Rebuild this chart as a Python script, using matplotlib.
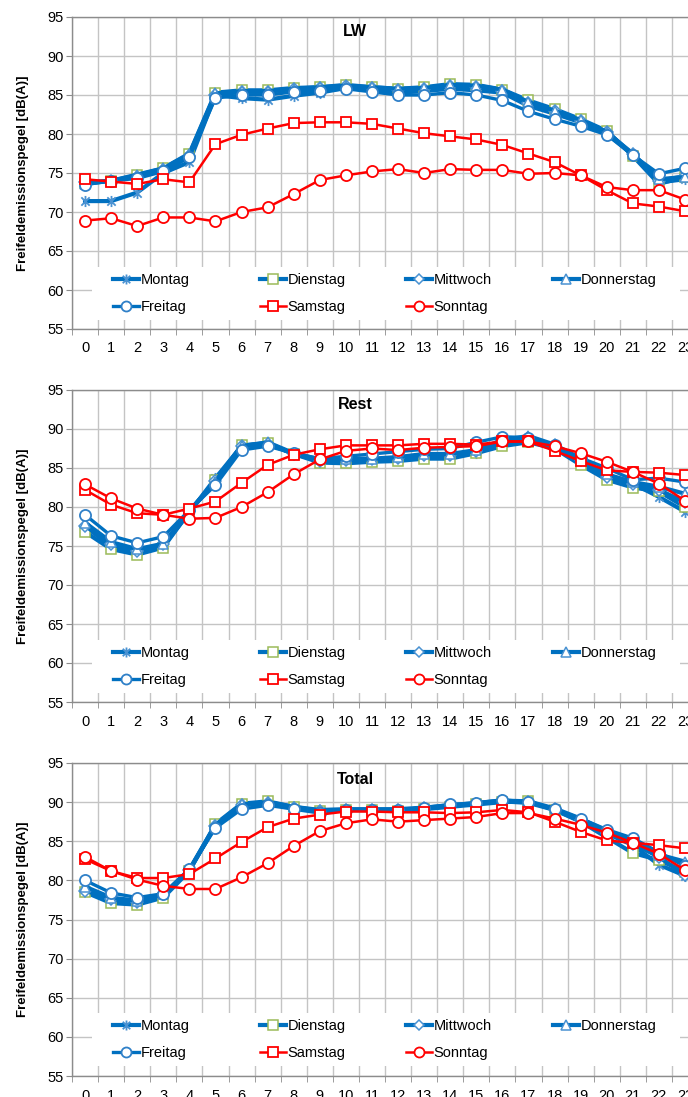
import numpy as np
import matplotlib
matplotlib.use("Agg")
import matplotlib.pyplot as plt
from matplotlib.path import Path
from matplotlib.patches import Rectangle
from matplotlib.legend import Legend

plt.rcParams['font.family'] = ['Liberation Sans', 'DejaVu Sans']

hours = list(range(24))
tick_labels = [str(h) for h in hours]
days = ["Montag", "Dienstag", "Mittwoch", "Donnerstag", "Freitag", "Samstag", "Sonntag"]
titles = ["LW", "Rest", "Total"]
ylabel = "Freifeldemissionspegel [dB(A)]"

# ---- LW ----
lw_mo = [71.4, 71.4, 72.5, 75.0, 76.4, 85.0, 84.6, 84.4, 84.9, 85.3, 85.9, 85.6, 85.3, 85.5, 85.8, 85.6, 85.3, 83.6, 82.6, 81.5, 80.1, 77.3, 73.8, 74.2]
lw_di = [73.7, 74.0, 74.7, 75.6, 77.5, 85.3, 85.6, 85.6, 85.9, 86.0, 86.3, 86.0, 85.8, 86.0, 86.4, 86.3, 85.7, 84.3, 83.2, 81.9, 80.4, 77.2, 73.6, 74.5]
lw_mi = [73.8, 74.0, 74.5, 75.4, 77.2, 85.0, 85.4, 85.4, 85.8, 85.9, 86.1, 85.9, 85.6, 85.8, 86.1, 86.0, 85.5, 84.0, 82.9, 81.7, 80.2, 77.5, 74.0, 74.6]
lw_do = [73.6, 74.0, 74.8, 75.6, 77.4, 85.2, 85.5, 85.5, 85.8, 86.0, 86.2, 86.0, 85.8, 85.9, 86.3, 86.2, 85.7, 84.1, 83.0, 81.8, 80.3, 77.4, 74.2, 74.5]
lw_fr = [73.5, 74.0, 74.3, 75.2, 77.0, 84.6, 85.0, 85.0, 85.4, 85.5, 85.8, 85.4, 85.0, 85.0, 85.3, 85.0, 84.3, 82.9, 81.9, 81.0, 79.9, 77.3, 74.9, 75.6]
lw_sa = [74.2, 73.9, 73.6, 74.2, 73.8, 78.7, 79.9, 80.7, 81.4, 81.5, 81.5, 81.3, 80.7, 80.1, 79.7, 79.3, 78.6, 77.5, 76.4, 74.7, 72.8, 71.1, 70.7, 70.1]
lw_so = [68.9, 69.2, 68.2, 69.3, 69.3, 68.8, 70.0, 70.6, 72.3, 74.1, 74.7, 75.2, 75.5, 75.0, 75.5, 75.4, 75.4, 74.9, 75.0, 74.7, 73.2, 72.8, 72.8, 71.6]

# ---- Rest ----
re_mo = [77.5, 75.0, 74.3, 75.0, 79.3, 83.7, 87.8, 88.2, 86.8, 86.0, 85.9, 86.0, 86.2, 86.5, 86.5, 86.9, 88.2, 88.7, 87.8, 85.8, 84.0, 83.0, 81.3, 79.4]
re_di = [76.8, 74.6, 73.9, 74.8, 79.4, 83.4, 87.9, 88.2, 86.8, 85.7, 85.6, 85.8, 85.9, 86.2, 86.2, 86.9, 87.8, 88.3, 87.5, 85.4, 83.5, 82.5, 82.0, 80.0]
re_mi = [77.6, 75.2, 74.4, 75.2, 79.5, 83.3, 87.8, 88.1, 86.8, 85.9, 86.0, 86.1, 86.3, 86.7, 86.7, 87.2, 88.5, 88.8, 87.9, 86.0, 83.9, 82.9, 82.2, 80.6]
re_do = [78.0, 75.5, 74.6, 75.3, 79.5, 83.2, 87.8, 88.3, 86.9, 86.1, 86.2, 86.2, 86.4, 86.8, 86.8, 87.3, 88.6, 89.1, 88.0, 86.1, 84.2, 83.2, 82.6, 81.7]
re_fr = [79.0, 76.3, 75.4, 76.2, 79.6, 82.8, 87.3, 87.8, 86.9, 86.2, 86.5, 86.8, 87.1, 87.4, 87.5, 88.3, 89.0, 88.9, 88.0, 86.3, 85.0, 83.5, 83.7, 83.2]
re_sa = [82.2, 80.3, 79.2, 79.0, 79.8, 80.7, 83.1, 85.4, 86.7, 87.4, 87.9, 87.9, 87.9, 88.1, 88.1, 88.0, 88.4, 88.4, 87.2, 85.9, 84.7, 84.5, 84.4, 84.1]
re_so = [82.9, 81.1, 79.8, 79.0, 78.5, 78.6, 80.0, 81.9, 84.2, 86.1, 87.2, 87.5, 87.3, 87.6, 87.7, 87.8, 88.4, 88.4, 87.8, 86.9, 85.8, 84.5, 83.0, 80.8]

# ---- Total ----
to_mo = [78.8, 77.5, 77.0, 78.1, 81.3, 87.0, 89.6, 90.0, 89.3, 88.8, 89.0, 89.0, 89.0, 89.2, 89.5, 89.8, 90.1, 89.9, 89.0, 87.6, 86.0, 84.5, 82.0, 80.6]
to_di = [78.5, 77.1, 76.9, 77.8, 81.2, 87.2, 89.8, 90.1, 89.4, 88.9, 89.0, 89.0, 88.9, 89.1, 89.4, 89.7, 90.0, 90.1, 89.0, 87.5, 85.5, 83.5, 82.6, 81.1]
to_mi = [78.7, 77.6, 77.3, 78.2, 81.3, 87.0, 89.6, 89.9, 89.3, 88.9, 89.0, 89.0, 89.0, 89.2, 89.5, 89.8, 90.1, 90.0, 89.1, 87.7, 86.0, 84.7, 83.0, 80.7]
to_do = [79.2, 77.8, 77.4, 78.2, 81.4, 87.1, 89.7, 90.0, 89.4, 89.0, 89.1, 89.1, 89.1, 89.3, 89.6, 89.9, 90.2, 90.1, 89.2, 87.9, 86.3, 85.0, 83.3, 82.4]
to_fr = [80.0, 78.4, 77.8, 78.3, 81.4, 86.7, 89.1, 89.6, 89.1, 88.6, 89.0, 89.0, 89.0, 89.3, 89.7, 89.9, 90.3, 90.0, 89.1, 87.9, 86.5, 85.4, 83.6, 81.8]
to_sa = [82.7, 81.2, 80.3, 80.3, 80.8, 82.8, 84.9, 86.8, 87.9, 88.4, 88.8, 88.8, 88.7, 88.7, 88.6, 88.7, 89.0, 88.7, 87.5, 86.2, 85.1, 84.8, 84.5, 84.1]
to_so = [83.0, 81.2, 80.1, 79.3, 78.9, 78.9, 80.4, 82.2, 84.4, 86.3, 87.3, 87.8, 87.5, 87.7, 87.9, 88.1, 88.6, 88.6, 87.9, 87.1, 86.1, 84.8, 83.4, 81.3]

panels = [
    [lw_mo, lw_di, lw_mi, lw_do, lw_fr, lw_sa, lw_so],
    [re_mo, re_di, re_mi, re_do, re_fr, re_sa, re_so],
    [to_mo, to_di, to_mi, to_do, to_fr, to_sa, to_so],
]

# ---- styles ----
BLUE = "#0070C0"
LBLUE = "#4A92D2"
RED = "#FF0000"
star = Path([(0, -1), (0, 1), (-0.75, -0.75), (0.75, 0.75), (-0.75, 0.75), (0.75, -0.75)],
            [Path.MOVETO, Path.LINETO, Path.MOVETO, Path.LINETO, Path.MOVETO, Path.LINETO])
styles = [
    dict(color=BLUE, lw=3.0, marker=star, ms=8, mec=LBLUE, mfc="none", mew=1.3),
    dict(color=BLUE, lw=3.0, marker="s", ms=7.5, mec="#9BBB59", mfc="white", mew=1.1),
    dict(color=BLUE, lw=3.0, marker="D", ms=6, mec=LBLUE, mfc="white", mew=1.1),
    dict(color=BLUE, lw=3.0, marker="^", ms=7.5, mec=LBLUE, mfc="white", mew=1.1),
    dict(color=BLUE, lw=2.4, marker="o", ms=8, mec="#2F80C8", mfc="white", mew=1.3),
    dict(color=RED, lw=1.8, marker="s", ms=7.5, mec=RED, mfc="white", mew=1.3),
    dict(color=RED, lw=1.8, marker="o", ms=8, mec=RED, mfc="white", mew=1.3),
]

W, H = 688, 1097
fig = plt.figure(figsize=(W / 100, H / 100), dpi=100)

ax_left, ax_right = 72, 698
tops = [17, 390, 763]
bots = [329, 702, 1076]
title_y = [31, 405, 780]
GRID = "#C4C4C4"
AXC = "#8C8C8C"

for p in range(3):
    top, bot = tops[p], bots[p]
    ax = fig.add_axes([ax_left / W, 1 - bot / H, (ax_right - ax_left) / W, (bot - top) / H])
    lines = []
    for d in range(7):
        ln, = ax.plot(hours, panels[p][d], label=days[d], zorder=3 + d * 0.01,
                      solid_joinstyle="round", **styles[d])
        lines.append(ln)
    ax.set_xlim(-0.5, 23.5)
    ax.set_ylim(55, 95)
    ax.set_yticks(np.arange(55, 96, 5))
    ax.set_xticks(hours)
    ax.set_xticklabels(tick_labels)
    ax.set_xticks(np.arange(-0.5, 24, 1), minor=True)
    ax.set_axisbelow(True)
    ax.grid(which="major", axis="y", color=GRID, lw=1.0)
    ax.grid(which="minor", axis="x", color=GRID, lw=1.0)
    ax.grid(which="major", axis="x", visible=False)
    ax.tick_params(axis="x", which="major", length=0, pad=9, labelsize=10.5)
    ax.tick_params(axis="x", which="minor", length=4, color=AXC, direction="out")
    ax.tick_params(axis="y", which="major", length=4, color=AXC, pad=2, labelsize=10.5)
    for s in ["top", "left", "bottom"]:
        ax.spines[s].set_color(AXC)
        ax.spines[s].set_linewidth(1.0)
    ax.spines["right"].set_visible(False)

    ax.set_ylabel(ylabel, fontsize=9.5, fontweight="bold")
    ax.yaxis.set_label_coords((29 - ax_left) / (ax_right - ax_left), 0.5)

    ph = bot - top
    ax.text((355 - ax_left) / (ax_right - ax_left), (bot - title_y[p]) / ph, titles[p],
            transform=ax.transAxes, ha="center", va="center", fontsize=11.5, fontweight="bold")

    # legend background
    lx0, lx1 = 92, 680
    ly0, ly1 = top + 250, top + 303
    rect = Rectangle(((lx0 - ax_left) / (ax_right - ax_left), (bot - ly1) / ph),
                     (lx1 - lx0) / (ax_right - ax_left), (ly1 - ly0) / ph,
                     transform=ax.transAxes, facecolor="white", edgecolor="none", zorder=4)
    ax.add_patch(rect)

    col_x = [113, 260, 406, 553]
    cols = [[0, 4], [1, 5], [2, 6], [3]]
    for ci, idxs in enumerate(cols):
        leg = Legend(ax, [lines[i] for i in idxs], [days[i] for i in idxs],
                     loc="upper left",
                     bbox_to_anchor=((col_x[ci] - ax_left) / (ax_right - ax_left),
                                     (bot - (top + 256)) / ph),
                     bbox_transform=ax.transAxes,
                     frameon=False, fontsize=10.5, handlelength=1.75,
                     handletextpad=0.12, labelspacing=0.92, borderpad=0,
                     borderaxespad=0, markerscale=0.9)
        leg.set_zorder(5)
        ax.add_artist(leg)

fig.savefig("out.png", dpi=100)
